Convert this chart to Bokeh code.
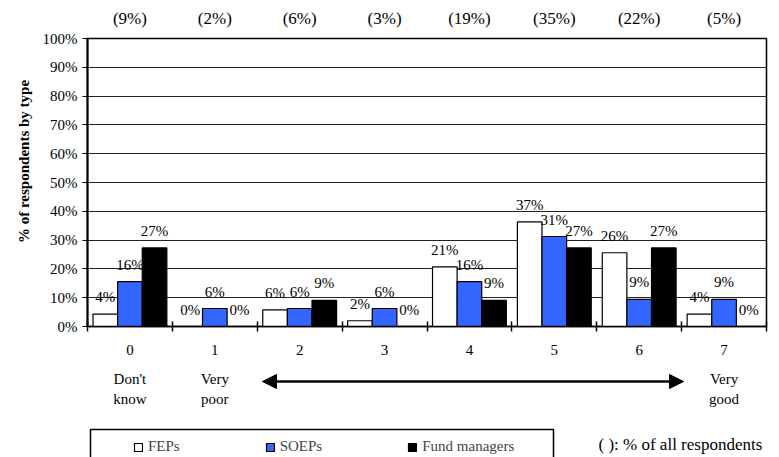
import math
from bokeh.plotting import figure
from bokeh.layouts import column, row
from bokeh.models import (ColumnDataSource, Range1d, FixedTicker, LabelSet,
                          Arrow, NormalHead, Legend, LegendItem)
from bokeh.core.properties import value
from bokeh.embed import file_html
from bokeh.resources import INLINE

# ---------------- data ----------------
categories = ["0", "1", "2", "3", "4", "5", "6", "7"]
share_all = ["(9%)", "(2%)", "(6%)", "(3%)", "(19%)", "(35%)", "(22%)", "(5%)"]
series_names = ["FEPs", "SOEPs", "Fund managers"]
feps = [4.3, 0.0, 5.8, 2.0, 20.7, 36.3, 25.6, 4.3]
feps_labels = ["4%", "0%", "6%", "2%", "21%", "37%", "26%", "4%"]
soeps = [15.6, 6.25, 6.25, 6.25, 15.6, 31.25, 9.4, 9.4]
soeps_labels = ["16%", "6%", "6%", "6%", "16%", "31%", "9%", "9%"]
fund = [27.3, 0.0, 9.1, 0.0, 9.1, 27.3, 27.3, 0.0]
fund_labels = ["27%", "0%", "9%", "0%", "9%", "27%", "27%", "0%"]
ytick_values = [0, 10, 20, 30, 40, 50, 60, 70, 80, 90, 100]
ytick_labels = ["0%", "10%", "20%", "30%", "40%", "50%", "60%", "70%", "80%", "90%", "100%"]
scale_cats = [0, 0, 1, 1, 7, 7]
scale_words = ["Don't", "know", "Very", "poor", "Very", "good"]
scale_line = [0, 1, 0, 1, 0, 1]
y_title = "% of respondents by type"
footnote = "( ): % of all respondents"

# ---------------- styling / layout ----------------
FONT = "Liberation Serif"
colors = ["#FFFFFF", "#3366FF", "#000000"]
offsets = [-0.29, 0.0, 0.29]
BAR_W = 0.29

TOTAL_W = 771
LEFT_STRIP = 35
FRAME_L = 87          # frame left edge in page px
FRAME_R_BORDER = 5
FRAME_W = TOTAL_W - FRAME_L - FRAME_R_BORDER   # 679
TOP_H = 29
MAIN_H = 333
BOT_H = 95
MAIN_TOP_B = 9
MAIN_BOT_B = 36

n = len(categories)
centers = [i + 0.5 for i in range(n)]
PX = FRAME_W / n     # pixels per category unit


def bare(fig):
    fig.xgrid.grid_line_color = None
    fig.ygrid.grid_line_color = None
    fig.outline_line_color = None
    fig.background_fill_color = "white"
    fig.border_fill_color = "white"
    return fig


# ---------- top strip: share of all respondents ----------
top = bare(figure(width=TOTAL_W, height=TOP_H, x_range=Range1d(0, n), y_range=Range1d(TOP_H, 0),
                  x_axis_location=None, y_axis_location=None, output_backend="svg",
                  toolbar_location=None, min_border_left=FRAME_L, min_border_right=FRAME_R_BORDER,
                  min_border_top=0, min_border_bottom=0))
top_src = ColumnDataSource(dict(x=centers, y=[18] * n, lab=share_all))
top.text(x="x", y="y", text="lab", source=top_src, text_align="center", text_baseline="middle",
         text_font=value(FONT), text_font_size="17px", text_color="black")

# ---------- left strip: y title ----------
left = bare(figure(width=LEFT_STRIP, height=MAIN_H, x_range=Range1d(0, LEFT_STRIP),
                   y_range=Range1d(0, 100), x_axis_location=None, y_axis_location=None,
                   output_backend="svg", toolbar_location=None, min_border_left=0,
                   min_border_right=0, min_border_top=MAIN_TOP_B, min_border_bottom=MAIN_BOT_B))
left.text(x=[23], y=[57.3], text=[y_title], angle=math.pi / 2, text_align="center",
          text_baseline="middle", text_font=value(FONT), text_font_size="15px",
          text_font_style="bold", text_color="black")

# ---------- main chart ----------
p = figure(width=TOTAL_W - LEFT_STRIP, height=MAIN_H, x_range=Range1d(0, n), y_range=Range1d(0, 100),
           output_backend="svg", toolbar_location=None,
           min_border_left=FRAME_L - LEFT_STRIP, min_border_right=FRAME_R_BORDER,
           min_border_top=MAIN_TOP_B, min_border_bottom=MAIN_BOT_B)
p.background_fill_color = "white"
p.border_fill_color = "white"
p.outline_line_color = "black"
p.outline_line_width = 1.5

p.xgrid.grid_line_color = None
p.ygrid.ticker = FixedTicker(ticks=ytick_values)
p.ygrid.grid_line_color = "#222222"
p.ygrid.grid_line_width = 1

p.yaxis.ticker = FixedTicker(ticks=ytick_values)
p.yaxis.major_label_overrides = {v: l for v, l in zip(ytick_values, ytick_labels)}
p.yaxis.major_label_text_font = FONT
p.yaxis.major_label_text_font_size = "15px"
p.yaxis.major_label_text_color = "black"
p.yaxis.axis_line_color = "black"
p.yaxis.axis_line_width = 2
p.yaxis.major_tick_out = 5
p.yaxis.major_tick_in = 0
p.yaxis.major_tick_line_color = "black"
p.yaxis.minor_tick_line_color = None
p.yaxis.major_label_standoff = 5

p.xaxis.ticker = FixedTicker(ticks=centers, minor_ticks=list(range(n + 1)))
p.xaxis.major_label_overrides = {c: lab for c, lab in zip(centers, categories)}
p.xaxis.major_label_text_font = FONT
p.xaxis.major_label_text_font_size = "15px"
p.xaxis.major_label_text_color = "black"
p.xaxis.major_tick_in = 0
p.xaxis.major_tick_out = 0
p.xaxis.minor_tick_in = 5
p.xaxis.minor_tick_out = 5
p.xaxis.minor_tick_line_color = "black"
p.xaxis.minor_tick_line_width = 1.5
p.xaxis.axis_line_color = "black"
p.xaxis.axis_line_width = 1.5
p.xaxis.major_label_standoff = 13

all_vals = [feps, soeps, fund]
all_labs = [feps_labels, soeps_labels, fund_labels]
for name, vals, labs, col, off in zip(series_names, all_vals, all_labs, colors, offsets):
    src = ColumnDataSource(dict(x=[c + off for c in centers], top=vals, lab=labs))
    p.vbar(x="x", top="top", width=BAR_W, source=src, fill_color=col,
           line_color="black", line_width=1.2)
    p.add_layout(LabelSet(x="x", y="top", text="lab", source=src, y_offset=17,
                          text_align="center", text_baseline="middle",
                          text_font=value(FONT), text_font_size=value("15px"),
                          text_color="black"))

# ---------- bottom strip: scale words, arrow, legend, footnote ----------
bot = bare(figure(width=TOTAL_W, height=BOT_H, x_range=Range1d(0, n),
                  y_range=Range1d(BOT_H, 0), x_axis_location=None, y_axis_location=None,
                  output_backend="svg", toolbar_location=None,
                  min_border_left=FRAME_L, min_border_right=FRAME_R_BORDER,
                  min_border_top=0, min_border_bottom=0))
sw_src = ColumnDataSource(dict(x=[centers[c] for c in scale_cats],
                               y=[16 + 20 * l for l in scale_line], lab=scale_words))
bot.text(x="x", y="y", text="lab", source=sw_src, text_align="center", text_baseline="middle",
         text_font=value(FONT), text_font_size="15px", text_color="black")

bot.add_layout(Arrow(start=NormalHead(size=14, fill_color="black", line_color="black"),
                     end=NormalHead(size=14, fill_color="black", line_color="black"),
                     x_start=(262 - FRAME_L) / PX, y_start=19,
                     x_end=(683 - FRAME_L) / PX, y_end=19,
                     line_width=2.5, line_color="black"))

# legend box
bot.quad(left=[(90 - FRAME_L) / PX], right=[(553 - FRAME_L) / PX], top=[67], bottom=[BOT_H + 5],
         fill_color=None, line_color="black", line_width=1.5)

leg_r = []
for col in colors:
    leg_r.append(bot.vbar(x=[float("nan")], top=[0], width=BAR_W, fill_color=col,
                          line_color="black", line_width=1.2))
legend = Legend(items=[LegendItem(label=nm, renderers=[r]) for nm, r in zip(series_names, leg_r)],
                orientation="horizontal", location=(133 - FRAME_L, 2), padding=0, spacing=85,
                glyph_width=10, glyph_height=10, label_standoff=5,
                label_text_font=FONT, label_text_font_size="15px",
                border_line_alpha=0, background_fill_alpha=0, margin=0)
bot.add_layout(legend, "center")

bot.text(x=[(598 - FRAME_L) / PX], y=[82], text=[footnote], text_align="left",
         text_baseline="middle", text_font=value(FONT), text_font_size="17px", text_color="black")

layout = column(top, row(left, p, spacing=0), bot, spacing=0)
open("out.html", "w").write(file_html(layout, INLINE))
